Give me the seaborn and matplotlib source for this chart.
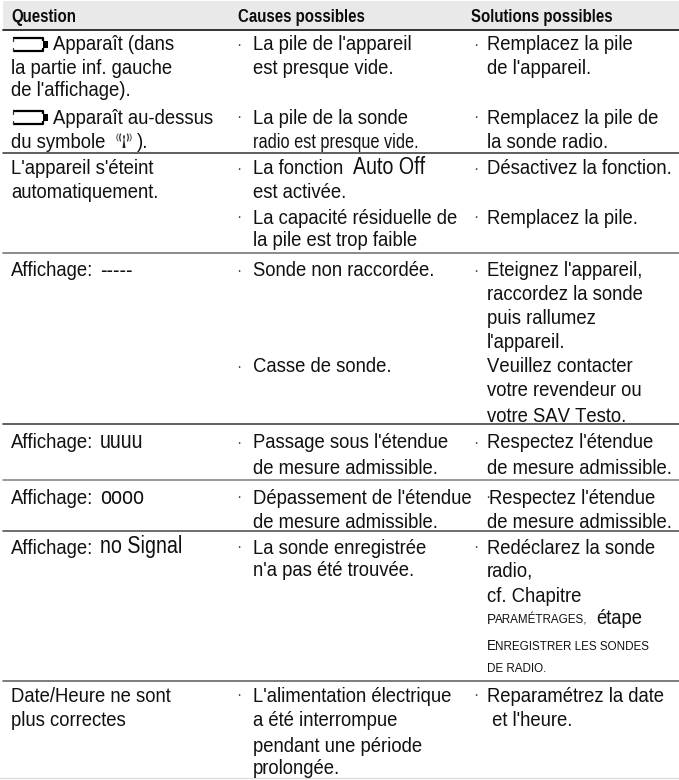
import matplotlib
matplotlib.use("Agg")
import matplotlib.pyplot as plt
import seaborn as sns
import pandas as pd
from matplotlib import font_manager as fm
from fontTools.ttLib import TTFont

# ---- data: the table's texts ----
headers = ["Question", "Causes possibles", "Solutions possibles"]
question_text = ["Apparaît (dans", "la partie inf. gauche", "de l'affichage).",
                 "Apparaît au-dessus", "du symbole", ").",
                 "L'appareil s'éteint", "automatiquement.",
                 "Affichage:", "Affichage:", "Affichage:", "Affichage:",
                 "Date/Heure ne sont", "plus correctes"]
display_codes = ["-----", "uuuu", "oooo", "no Signal"]
cause_text = ["La pile de l'appareil", "est presque vide.",
              "La pile de la sonde",
              "La fonction", "est activée.",
              "La capacité résiduelle de", "la pile est trop faible",
              "Sonde non raccordée.", "Casse de sonde.",
              "Passage sous l'étendue", "de mesure admissible.",
              "Dépassement de l'étendue", "de mesure admissible.",
              "La sonde enregistrée", "n'a pas été trouvée.",
              "L'alimentation électrique", "a été interrompue",
              "pendant une période", "prolongée."]
cause_tight = "radio est presque vide."
auto_off = "Auto Off"
solution_text = ["Remplacez la pile", "de l'appareil.",
                 "Remplacez la pile de", "la sonde radio.",
                 "Désactivez la fonction.", "Remplacez la pile.",
                 "Eteignez l'appareil,", "raccordez la sonde",
                 "puis rallumez", "l'appareil.",
                 "Veuillez contacter", "votre revendeur ou", "votre SAV Testo.",
                 "Respectez l'étendue", "de mesure admissible.",
                 "Respectez l'étendue", "de mesure admissible.",
                 "Redéclarez la sonde", "radio,", "cf. Chapitre",
                 "Reparamétrez la date", " et l'heure."]
caps_big = ["P", "E"]
caps_small = ["ARAMÉTRAGES,", "NREGISTRER LES SONDES"]
caps_plain = "DE RADIO."
etape = "étape"

# ---- layout ----
COL_Q, COL_I, COL_C, COL_S = 11, 53, 253, 487
question_pos = [(COL_I, 50), (COL_Q, 73), (COL_Q, 95), (COL_I, 123), (COL_Q, 148), (137, 148),
                (COL_Q, 174), (COL_Q, 198), (COL_Q, 276), (COL_Q, 448), (COL_Q, 503), (COL_Q, 553),
                (COL_Q, 701), (COL_Q, 726)]
code_pos = [(100, 276), (100, 448), (100, 503), (100, 553)]
cause_y = [50, 73, 123, 174, 198, 223, 246, 276, 372, 448, 473, 503, 528, 553, 576, 701, 726, 751, 774]
solution_y = [50, 73, 123, 148, 174, 223, 276, 299, 323, 348, 372, 396, 421, 448, 473, 503, 528, 553, 576, 601, 701, 726]
caps_y = [623, 649]
dots_c = [50, 123, 174, 223, 276, 372, 448, 503, 553, 701]
dots_s = [50, 123, 174, 223, 276, 448, 553, 701]
rule_y = [153, 253, 424, 480, 531, 681]
rule_c = ["#444444", "#777777", "#444444", "#888888", "#555555", "#666666"]
battery_y = [44, 117]
W, H = 679, 780
header_x = [11, 238, 471]


def narrowed(path, sx, out):
    """Write a horizontally condensed copy of a font, so text stays real text."""
    f = TTFont(path)
    glyf = f["glyf"]
    hmtx = f["hmtx"]
    for name in glyf.keys():
        g = glyf[name]
        if g.isComposite():
            for c in g.components:
                c.x = round(c.x * sx)
        elif g.numberOfContours > 0:
            g.coordinates.scale((sx, 1))
            g.coordinates.toInt()
            g.removeHinting()
        adv, lsb = hmtx.metrics[name]
        hmtx.metrics[name] = (round(adv * sx), round(lsb * sx))
    for tag in ("fpgm", "prep", "cvt ", "hdmx", "VDMX", "LTSH", "kern", "GPOS", "GSUB", "GDEF"):
        if tag in f:
            del f[tag]
    f.save(out)
    return out


sns.set_theme(style="white")
reg = fm.findfont(fm.FontProperties(family="Liberation Sans"))
bold = fm.findfont(fm.FontProperties(family="Liberation Sans", weight="bold"))
F_BODY = narrowed(reg, 0.93, "body.ttf")
F_TIGHT = narrowed(reg, 0.82, "tight.ttf")
F_BOLD = narrowed(bold, 0.80, "head.ttf")
F_CODE = narrowed(reg, 0.86, "code.ttf")
SIZE = 14.3

fig = plt.figure(figsize=(W / 100, H / 100), dpi=100)
ax = fig.add_axes([0, 0, 1, 1])
ax.axhspan(1, 29, xmin=3 / W, color="#e9e9e9", lw=0)
ax.axhline(30, xmin=3 / W, color="#222222", lw=1.3)
n = len(rule_y)
rules = pd.DataFrame({"y": rule_y * 2, "x": [3] * n + [W] * n, "rule": rule_c * 2})
sns.lineplot(data=rules, x="x", y="y", hue="rule", palette={c: c for c in rule_c},
             estimator=None, sort=False, lw=1.2, ax=ax, legend=False, units="y")
ax.axhline(778, color="#dddddd", lw=1)
ax.set_xlim(0, W)
ax.set_ylim(H, 0)
ax.axis("off")

tc = "#111111"


def put(x, y, s, font=F_BODY, size=SIZE, color=tc):
    ax.text(x, y + 0.5, s, fontproperties=fm.FontProperties(fname=font, size=size), color=color,
            ha="left", va="baseline")


for x, s in zip(header_x, headers):
    put(x, 21.5, s, F_BOLD, 13.5, "#0c0c0c")
for (x, y), s in zip(question_pos, question_text):
    put(x, y, s)
for (x, y), s in zip(code_pos, display_codes):
    put(x, y, s, F_CODE, 16.5)
for y, s in zip(cause_y, cause_text):
    put(COL_C, y, s)
put(COL_C, 148, cause_tight, F_TIGHT)
put(353, 174, auto_off, F_CODE, 16.5)
for i, (y, s) in enumerate(zip(solution_y, solution_text)):
    put(COL_S + (2 if i == 15 else 0), y, s)
for y, b, s in zip(caps_y, caps_big, caps_small):
    put(COL_S, y, b, F_BODY, 10.5)
    put(COL_S + 8, y, s, F_BODY, 9)
put(COL_S, 672, caps_plain, F_BODY, 9)
put(596, 623, etape, F_BODY, 14.3)
for y in dots_c:
    put(236.5, y - 1, "·", F_BODY, 12, "#444444")
for y in dots_s:
    put(473.5, y - 1, "·", F_BODY, 12, "#444444")
put(485, 502, "·", F_BODY, 12, "#444444")

for y in battery_y:
    ax.plot([13, 43, 43], [y - 6, y - 6, y - 3], color="black", lw=1.6, solid_capstyle="butt")
    ax.plot([13, 43, 43], [y + 7, y + 7, y + 4], color="black", lw=1.6, solid_capstyle="butt")
    ax.fill_between([43, 48], y - 3, y + 4, color="black", lw=0)
    ax.plot([13, 13], [y - 6, y - 3], color="#333333", lw=0.9)
    ax.plot([13, 13], [y + 4, y + 7], color="#333333", lw=0.9)

ax.fill([122.5, 125.5, 124], [148, 148, 137], color="#222222", lw=0)
ax.plot([124, 124], [136, 138], color="#222222", lw=1.2)
for x0, x1 in ((120.5, 119.5), (127.5, 128.5)):
    ax.plot([x0, x1, x0], [134, 137.5, 141], color="#444444", lw=1.0)
for x0, x1 in ((118, 116.5), (130, 131.5)):
    ax.plot([x0, x1, x0], [134, 137.5, 141], color="#777777", lw=0.9)

fig.savefig("out.png", dpi=100)
